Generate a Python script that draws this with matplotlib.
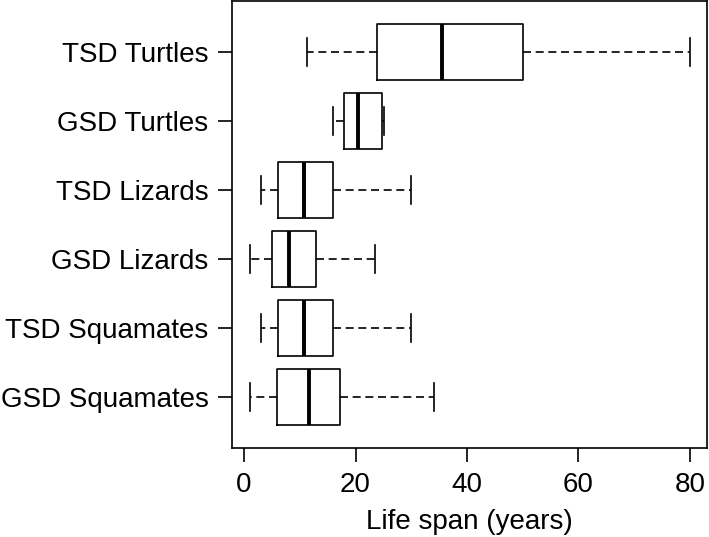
import matplotlib
matplotlib.use("Agg")
import matplotlib.pyplot as plt

categories = ["GSD Squamates", "TSD Squamates", "GSD Lizards", "TSD Lizards", "GSD Turtles", "TSD Turtles"]
whisker_low = [1.1, 3.0, 1.0, 3.0, 15.9, 11.3]
q1 = [6.0, 6.1, 5.0, 6.1, 18.0, 23.9]
median = [11.6, 10.7, 8.0, 10.7, 20.4, 35.5]
q3 = [17.3, 16.0, 13.0, 16.0, 24.7, 50.0]
whisker_high = [34.0, 30.0, 23.5, 30.0, 25.1, 80.0]
xticks = [0, 20, 40, 60, 80]

plt.rcParams['font.family'] = ['Liberation Sans', 'DejaVu Sans']

fig = plt.figure(figsize=(7.09, 5.37), dpi=100)
ax = fig.add_axes([232/709, (537-448)/537, (707.5-232)/709, (447)/537])

stats = []
for i, c in enumerate(categories):
    stats.append(dict(label=c, whislo=whisker_low[i], q1=q1[i], med=median[i],
                      q3=q3[i], whishi=whisker_high[i], fliers=[]))

lw = 1.2
ax.bxp(stats, positions=range(1, len(categories) + 1), vert=False, widths=0.8,
       capwidths=0.4, showfliers=False,
       boxprops=dict(color='black', linewidth=lw),
       medianprops=dict(color='black', linewidth=2.8, solid_capstyle='butt'),
       whiskerprops=dict(color='black', linewidth=lw, linestyle=(0, (4.8, 2.8))),
       capprops=dict(color='black', linewidth=lw))

ax.set_xlim(-2.16, 83.16)
ax.set_ylim(0.26, 6.74)
ax.set_xticks(xticks)
ax.set_xticklabels([str(t) for t in xticks])
ax.set_yticks(range(1, len(categories) + 1))
ax.set_yticklabels(categories)
ax.tick_params(axis='both', direction='out', length=10, width=lw, labelsize=20, pad=7)
for s in ax.spines.values():
    s.set_linewidth(lw)
ax.set_xlabel("Life span (years)", fontsize=20, labelpad=8)

fig.savefig("out.png", dpi=100)
